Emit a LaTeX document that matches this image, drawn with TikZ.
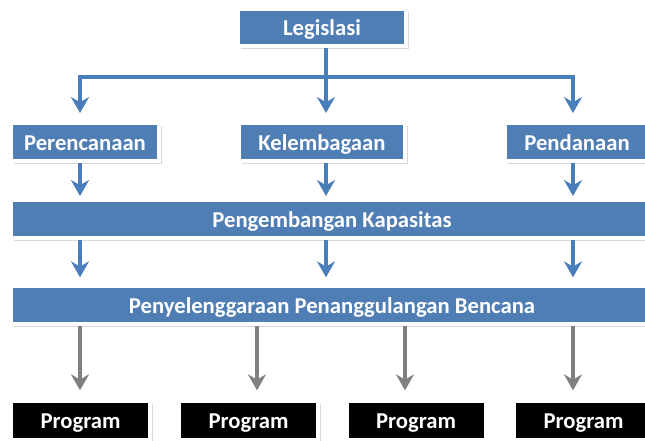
\documentclass[tikz,border=0pt]{standalone}
\usepackage{fontspec}
\setmainfont{Carlito}
\usetikzlibrary{arrows.meta,shadows}
\definecolor{boxblue}{RGB}{79,126,181}
\definecolor{lineblue}{RGB}{74,126,187}
\definecolor{linegray}{RGB}{128,128,128}
\tikzset{
  bluebox/.style={fill=boxblue, draw=white, line width=3pt, text=white,
    font=\fontsize{17}{20}\selectfont\bfseries, inner sep=0pt,
    text height=14pt, text depth=1.5pt, minimum height=28.5pt,
    drop shadow={shadow xshift=2pt, shadow yshift=-2.2pt, opacity=0.3}},
  progbox/.style={bluebox, fill=black, minimum width=104.25pt, minimum height=29.25pt},
  flow/.style={draw=lineblue, line width=3pt, -{Stealth[length=12pt,width=13.5pt,inset=4pt]}},
  grayflow/.style={flow, draw=linegray},
}
\begin{document}
\begin{tikzpicture}[x=0.75pt,y=0.75pt,yscale=-1,xscale=1]
\useasboundingbox (0,0) rectangle (645,440);
\clip (0,0) rectangle (645,440);
% arrow columns
\coordinate (colA) at (80,0);
\coordinate (colB) at (326,0);
\coordinate (colC) at (573,0);
\coordinate (colP2) at (257,0);
\coordinate (colP3) at (405,0);
\coordinate (bus) at (326,77);

% Boxes
\node[bluebox, minimum width=126pt, minimum height=27.75pt] (leg) at (322,27.5) {Legislasi};
\node[bluebox, minimum width=111pt] (per) at (85,142) {Perencanaan};
\node[bluebox, minimum width=124.5pt] (kel) at (322,142) {Kelembagaan};
\node[bluebox, minimum width=108pt] (pen) at (577,142) {Pendanaan};
\node[bluebox, minimum width=481.5pt] (dev) at (332,219) {Pengembangan Kapasitas};
\node[bluebox, minimum width=481.5pt] (pb) at (332,305) {Penyelenggaraan Penanggulangan Bencana};
\node[progbox] (prg1) at (80.5,420.5) {Program};
\node[progbox] (prg2) at (248.5,420.5) {Program};
\node[progbox] (prg3) at (416,420.5) {Program};
\node[progbox] (prg4) at (583.5,420.5) {Program};

% Legislasi to second row
\draw[flow, shorten >=6pt] (leg.south -| colB) -- (kel.north -| colB);
\draw[flow, shorten >=6pt] (bus) -| (per.north -| colA);
\draw[flow, shorten >=6pt] (bus) -| (pen.north -| colC);
% second row to Pengembangan Kapasitas
\foreach \c/\n in {colA/per, colB/kel, colC/pen}
  \draw[flow, shorten >=1.5pt] (\n.south -| \c) -- (dev.north -| \c);
% to Penyelenggaraan
\foreach \c in {colA, colB, colC}
  \draw[flow, shorten >=5pt] (dev.south -| \c) -- (pb.north -| \c);
% to Program
\foreach \c/\n in {colA/prg1, colP2/prg2, colP3/prg3, colC/prg4}
  \draw[grayflow, shorten >=6.5pt] (pb.south -| \c) -- (\n.north -| \c);

\end{tikzpicture}
\end{document}
